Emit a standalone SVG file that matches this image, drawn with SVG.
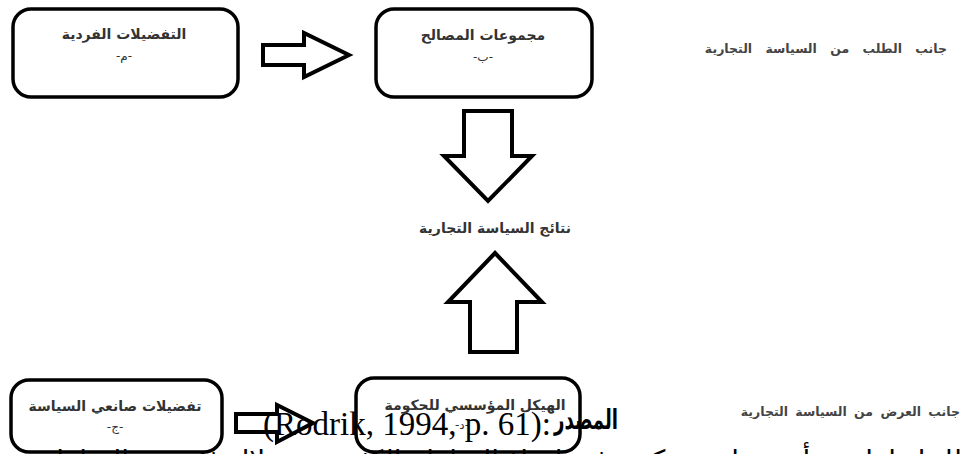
<svg xmlns="http://www.w3.org/2000/svg" width="968" height="454" viewBox="0 0 968 454">
<style>
.box{fill:#fff;stroke:#000;stroke-width:3.5}
.arr{fill:#fff;stroke:#000;stroke-width:4;stroke-linejoin:miter}
.lbl{font-family:"DejaVu Sans",sans-serif;font-weight:bold;font-size:14px;fill:#333;text-anchor:middle}
.sub{font-family:"DejaVu Sans",sans-serif;font-size:12px;fill:#333;text-anchor:middle}
.side{font-family:"DejaVu Sans",sans-serif;font-weight:bold;font-size:12.5px;fill:#444;text-anchor:end}
.src{font-family:"Liberation Serif","Times New Roman",serif;font-size:33px;fill:#000}
.ar{font-family:"DejaVu Sans",sans-serif;font-size:28px;fill:#000}
</style>
<rect width="968" height="454" fill="#fff"/>
<g id="connectors">
<path class="arr" d="M263,45 H304 V33 L349,55 L304,77 V65 H263 Z"/>
<path class="arr" d="M464,111 H512 V156 H532 L488,201 L444,156 H464 Z"/>
<path class="arr" d="M495,253 L542,302 H517 V352 H470 V302 H448 Z"/>
<path class="arr" d="M236,414 H277 V405 L313,423 L277,442 V432 H236 Z"/>
</g>
<g id="node-individual">
<rect class="box" x="13" y="9" width="225" height="88" rx="18"/>
<text class="lbl" x="124" y="39">التفضيلات الفردية</text>
<text class="sub" x="124" y="60">-م-</text>
</g>
<g id="node-interest">
<rect class="box" x="376" y="9" width="216" height="88" rx="18"/>
<text class="lbl" x="483" y="40" font-size="16">مجموعات المصالح</text>
<text class="sub" x="483" y="61">-ب-</text>
</g>
<g id="label-demand">
<text class="side" x="947" y="53" word-spacing="9">جانب الطلب من السياسة التجارية</text>
</g>
<g id="node-outcome">
<text class="lbl" x="495" y="233" font-size="15.5">نتائج السياسة التجارية</text>
</g>
<g id="node-policymakers">
<rect class="box" x="11" y="380" width="211" height="72" rx="18"/>
<text class="lbl" x="115" y="411" font-size="17">تفضيلات صانعي السياسة</text>
<text class="sub" x="115" y="431" font-size="13">-ج-</text>
</g>
<g id="node-institutional">
<rect class="box" x="356" y="378" width="224" height="74" rx="18"/>
<text class="lbl" x="475" y="410" font-size="16" fill="#666">الهيكل المؤسسي للحكومة</text>
<text class="sub" x="462" y="429" fill="#777">-د-</text>
</g>
<g id="label-supply">
<text class="side" x="960" y="416" word-spacing="3">جانب العرض من السياسة التجارية</text>
</g>
<g id="source">
<text class="src" x="263" y="435" direction="ltr">(Rodrik, 1994, p. 61):</text>
<text class="ar" x="618" y="429" font-weight="bold" text-anchor="end" font-size="24" textLength="64" lengthAdjust="spacingAndGlyphs">المصدر</text>
</g>
<text class="ar" x="962" y="470" direction="rtl" text-anchor="start">للحل لطبيعة أي سياسة تتكون في اتخاذ السلطة الكثير من خلال فئة من السلطة وصناع السياسة</text>
</svg>
